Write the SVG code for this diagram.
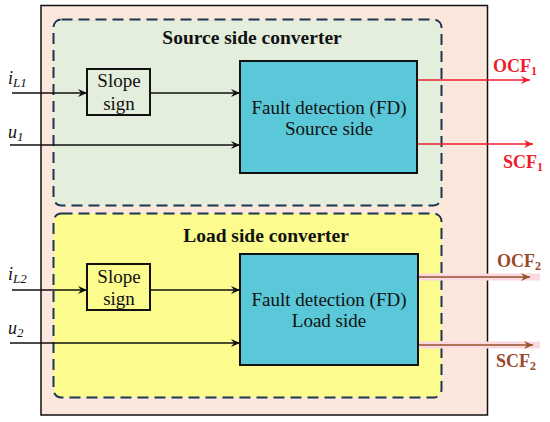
<svg xmlns="http://www.w3.org/2000/svg" width="550" height="422" viewBox="0 0 550 422">
<defs>
<marker id="ak" markerWidth="10" markerHeight="8" refX="9" refY="4" orient="auto" markerUnits="userSpaceOnUse"><path d="M0,0 L9,4 L0,8 L3,4 Z" fill="#111"/></marker>
<marker id="ar" markerWidth="10" markerHeight="8" refX="9" refY="4" orient="auto" markerUnits="userSpaceOnUse"><path d="M0,0 L9,4 L0,8 L3,4 Z" fill="#ee1c2c"/></marker>
<marker id="ab" markerWidth="10" markerHeight="8" refX="9" refY="4" orient="auto" markerUnits="userSpaceOnUse"><path d="M0,0 L9,4 L0,8 L3,4 Z" fill="#95512c"/></marker>
</defs>
<style>
.s{font-family:'Liberation Serif',serif !important;}
.fd{fill:#5ac8d8;stroke:#111;stroke-width:2;}
.dash{stroke:#1c3550;stroke-width:2;stroke-dasharray:11,6;}
.lk{stroke:#111;stroke-width:1.6;fill:none;marker-end:url(#ak);}
.lr{stroke:#ee1c2c;stroke-width:1.6;fill:none;marker-end:url(#ar);}
.lb{stroke:#95512c;stroke-width:1.6;fill:none;marker-end:url(#ab);}
.halo{stroke:#fcd9e0;stroke-width:7;fill:none;}
</style>
<rect width="550" height="422" fill="#fff"/>
<g id="outer">
<rect x="41" y="5.5" width="446.5" height="409.5" fill="#fce7dc" stroke="#111" stroke-width="1.5"/>
</g>
<g id="source-group">
<rect class="dash" x="53.5" y="19.5" width="388" height="186" rx="8" fill="#e4eedc"/>
<text class="s" style="font-family:'Liberation Serif',serif" x="252" y="44" text-anchor="middle" font-size="19.5" font-weight="bold" fill="#111">Source side converter</text>
</g>
<g id="load-group">
<rect class="dash" x="53.5" y="213.5" width="388" height="184" rx="8" fill="#fbfb8e"/>
<text class="s" style="font-family:'Liberation Serif',serif" x="266" y="242" text-anchor="middle" font-size="19.5" font-weight="bold" fill="#111">Load side converter</text>
</g>
<g id="connectors">
<line class="halo" x1="418" y1="277" x2="540" y2="277"/>
<line class="halo" x1="418" y1="345" x2="540" y2="345"/>
<line class="lk" x1="12" y1="93" x2="87" y2="93"/>
<line class="lk" x1="150" y1="93" x2="240" y2="93"/>
<line class="lk" x1="10" y1="145" x2="240" y2="145"/>
<line class="lr" x1="418" y1="80" x2="530" y2="80"/>
<line class="lr" x1="418" y1="144" x2="533" y2="144"/>
<line class="lk" x1="12" y1="290" x2="87" y2="290"/>
<line class="lk" x1="150" y1="290" x2="240" y2="290"/>
<line class="lk" x1="10" y1="343" x2="240" y2="343"/>
<line class="lb" x1="418" y1="277" x2="530" y2="277"/>
<line class="lb" x1="418" y1="345" x2="533" y2="345"/>
</g>
<g id="slope1">
<rect x="87" y="69" width="63" height="46" fill="none" stroke="#111" stroke-width="2"/>
<text class="s" style="font-family:'Liberation Serif',serif" x="119" y="87" text-anchor="middle" font-size="19" fill="#111">Slope</text>
<text class="s" style="font-family:'Liberation Serif',serif" x="119" y="110" text-anchor="middle" font-size="19" fill="#111">sign</text>
</g>
<g id="fd1">
<rect class="fd" x="240" y="61" width="177" height="112"/>
<text class="s" style="font-family:'Liberation Serif',serif" x="329" y="114" text-anchor="middle" font-size="19" fill="#111">Fault detection (FD)</text>
<text class="s" style="font-family:'Liberation Serif',serif" x="329" y="135" text-anchor="middle" font-size="19" fill="#111">Source side</text>
</g>
<g id="slope2">
<rect x="87" y="264" width="63" height="46" fill="none" stroke="#111" stroke-width="2"/>
<text class="s" style="font-family:'Liberation Serif',serif" x="119" y="283" text-anchor="middle" font-size="19" fill="#111">Slope</text>
<text class="s" style="font-family:'Liberation Serif',serif" x="119" y="305" text-anchor="middle" font-size="19" fill="#111">sign</text>
</g>
<g id="fd2">
<rect class="fd" x="240" y="254" width="178" height="111"/>
<text class="s" style="font-family:'Liberation Serif',serif" x="329" y="306" text-anchor="middle" font-size="19" fill="#111">Fault detection (FD)</text>
<text class="s" style="font-family:'Liberation Serif',serif" x="329" y="327" text-anchor="middle" font-size="19" fill="#111">Load side</text>
</g>
<g id="labels">
<text class="s" style="font-family:'Liberation Serif',serif" x="8" y="84" font-size="18" font-style="italic" fill="#111">i<tspan font-size="13" dy="3">L1</tspan></text>
<text class="s" style="font-family:'Liberation Serif',serif" x="8" y="138" font-size="18" font-style="italic" fill="#111">u<tspan font-size="13" dy="3">1</tspan></text>
<text class="s" style="font-family:'Liberation Serif',serif" x="8" y="280" font-size="18" font-style="italic" fill="#111">i<tspan font-size="13" dy="3">L2</tspan></text>
<text class="s" style="font-family:'Liberation Serif',serif" x="8" y="334" font-size="18" font-style="italic" fill="#111">u<tspan font-size="13" dy="3">2</tspan></text>
<text class="s" style="font-family:'Liberation Serif',serif" x="493" y="72" font-size="18" font-weight="bold" fill="#ee1c2c">OCF<tspan font-size="12" dy="3">1</tspan></text>
<text class="s" style="font-family:'Liberation Serif',serif" x="503" y="168" font-size="18" font-weight="bold" fill="#ee1c2c">SCF<tspan font-size="12" dy="3">1</tspan></text>
<text class="s" style="font-family:'Liberation Serif',serif" x="497" y="267" font-size="18" font-weight="bold" fill="#9b4a2c">OCF<tspan font-size="12" dy="3">2</tspan></text>
<text class="s" style="font-family:'Liberation Serif',serif" x="496" y="367" font-size="18" font-weight="bold" fill="#9b4a2c">SCF<tspan font-size="12" dy="3">2</tspan></text>
</g>
</svg>
